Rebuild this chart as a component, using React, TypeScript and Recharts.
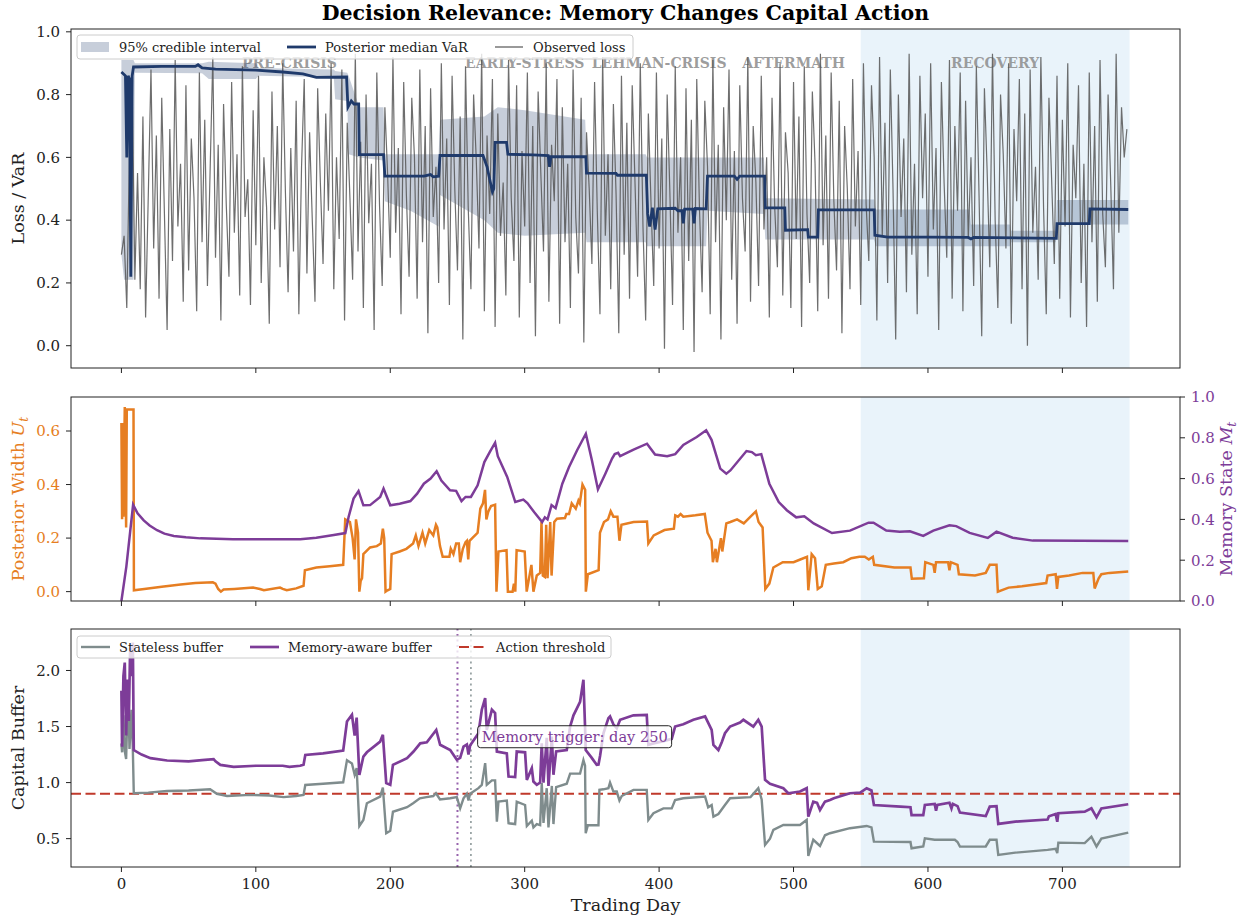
import React from 'react';
import {
  ComposedChart,
  Line,
  Area,
  XAxis,
  YAxis,
  ReferenceArea,
  ReferenceLine,
  ReferenceDot,
} from 'recharts';

const FONT = '"DejaVu Serif", "Liberation Serif", serif';
const NAVY = '#1f3a6b';
const ORANGE = '#e67e22';
const PURPLE = '#7d3c98';
const SLATE = '#7f8c8d';
const RED = '#c0392b';
const INK = '#222';
const SHADE = '#e9f3fa';

const X_TICKS = [0, 100, 200, 300, 400, 500, 600, 700];
const X_DOMAIN = [-37.5, 787.5];
const LOSS_STEP = 2;

const phases = [
  { name: 'PRE-CRISIS', start: 0, end: 250 },
  { name: 'EARLY-STRESS', start: 250, end: 350 },
  { name: 'LEHMAN-CRISIS', start: 350, end: 450 },
  { name: 'AFTERMATH', start: 450, end: 550 },
  { name: 'RECOVERY', start: 550, end: 750 },
];

// observed loss, every other trading day
const observedLoss = [
  .29, .35, .12, .62, .85, .21, .55, .18, .73, .09, .48, .88, .31, .67, .15, .79, .42, .05, .69, .27, .91, .38, .58, .14, .83,
  .24, .66, .47, .11, .87, .33, .72, .19, .56, .92, .28, .64, .08, .77, .45, .22, .84, .36, .61, .16, .89, .41, .53, .13, .75,
  .32, .86, .2, .6, .44, .07, .81, .37, .7, .25, .9, .49, .17, .63, .3, .78, .1, .57, .85, .23, .68, .4, .14, .82, .52,
  .26, .74, .43, .9, .18, .6, .34, .88, .08, .71, .47, .21, .93, .3, .65, .12, .8, .39, .58, .05, .87, .45, .19, .76, .55,
  .28, .92, .36, .63, .1, .84, .48, .22, .79, .6, .15, .88, .33, .7, .04, .82, .41, .57, .2, .9, .37, .66, .13, .86, .5,
  .24, .73, .02, .89, .44, .18, .8, .59, .31, .93, .11, .67, .42, .85, .06, .74, .35, .52, .16, .91, .47, .27, .83, .09, .62,
  .38, .87, .2, .7, .03, .81, .55, .3, .9, .14, .64, .46, .85, .07, .76, .33, .58, .12, .88, .41, .23, .79, .01, .68, .5,
  .26, .84, .43, .1, .92, .35, .61, .18, .77, .48, .04, .86, .29, .71, .15, .83, .53, .22, .9, .38, .08, .74, .45, .19, .87,
  .31, .66, -.01, .8, .49, .13, .89, .36, .6, .05, .82, .27, .72, -.02, .85, .44, .17, .78, .57, .1, .91, .33, .64, .02, .76,
  .4, .88, .21, .62, .07, .83, .47, .3, .92, .14, .7, .52, .19, .86, .37, .6, .09, .79, .44, .25, .9, .16, .68, .55, .12,
  .84, .34, .73, .06, .89, .42, .2, .81, .58, .11, .93, .32, .67, .15, .87, .46, .24, .78, .04, .7, .5, .18, .85, .38, .62,
  .13, .9, .45, .27, .83, .6, .08, .92, .35, .71, .2, .88, .5, .02, .8, .41, .66, .17, .93, .29, .58, .1, .86, .47, .74,
  .22, .9, .37, .63, .05, .84, .52, .28, .91, .15, .7, .43, .87, .11, .78, .34, .6, .19, .89, .48, .03, .82, .56, .25, .93,
  .4, .12, .8, .61, .31, .9, .07, .69, .46, .85, .18, .74, 0, .88, .36, .57, .21, .92, .44, .1, .79, .53, .26, .86, .15,
  .72, .38, .9, .09, .64, .47, .83, .2, .58, .06, .87, .33, .7, .14, .91, .42, .25, .8, .51, .18, .93, .36, .76, .6, .69,
];

// [day, posterior median VaR]
const varMedian = [
  [0, .872], [3, .86], [4, .6], [5, .86], [6, .85], [7, .22], [8, .86], [9, .888], [30, .89], [55, .89], [57, .895],
  [60, .885], [70, .881], [100, .878], [120, .872], [135, .866], [145, .855], [167.5, .856], [168.5, .76], [171, .78],
  [173, .77], [176.5, .77], [177, .609], [195, .609], [196, .54], [225, .54], [230, .545], [232, .538], [236, .54],
  [237, .606], [269, .606], [272, .57], [276, .49], [277, .5], [278, .648], [286.5, .648], [287.5, .61], [306, .608],
  [317.5, .606], [318.5, .57], [319.5, .602], [345.5, .602], [346, .55], [368, .549], [369, .543], [390.5, .543],
  [391.5, .42], [393, .38], [395, .44], [397, .37], [399, .436], [412, .438], [414, .43], [417, .43], [418, .39],
  [419, .435], [425, .435], [426, .39], [427, .437], [435, .436], [436, .54], [456, .54], [458, .53], [460, .54],
  [478.5, .54], [479, .439], [493.5, .439], [494, .368], [510.5, .37], [511, .346], [518, .346], [518.5, .433],
  [560, .433], [560.5, .352], [570, .346], [600, .346], [630, .345], [632, .34], [634, .345], [695.5, .342],
  [696, .389], [720, .389], [720.5, .436], [749, .434],
];

// [day, lower, upper] of the 95% credible interval
const credBand = [
  [0, .29, .91], [2, .21, .91], [9, .21, .91], [10, .87, .9], [60, .868, .9], [65, .85, .905], [100, .85, .9],
  [102, .86, .885], [158, .855, .88], [159, .785, .875], [168, .78, .87], [169, .61, .86], [177, .6, .76],
  [195, .59, .76], [196, .46, .61], [215, .43, .61], [236, .38, .61], [237, .48, .72], [270, .4, .73],
  [280, .36, .76], [300, .35, .75], [345, .36, .72], [346, .33, .61], [390, .33, .61], [391, .317, .6],
  [435, .317, .6], [436, .43, .6], [478, .42, .6], [479, .338, .47], [560, .338, .466], [561, .317, .434],
  [631, .317, .434], [632, .317, .386], [661, .317, .386], [662, .33, .366], [695, .33, .366], [696, .386, .464],
  [749, .386, .464],
];

// [day, posterior width U_t]
const postWidth = [
  [0, .63], [0.5, .27], [1, .63], [1.5, .28], [2.5, .69], [3.5, .24], [4, .68], [9, .68], [9.3, .005], [17, .01],
  [30, .018], [44, .027], [55, .032], [68, .035], [70, .03], [72, .01], [74, 0], [76, .008], [84, .01], [98, .015],
  [103, .01], [106, .005], [118, .015], [120, .01], [123, .005], [130, .012], [135.5, .022], [136.5, .08], [145, .09],
  [155, .095], [165, .1], [166.5, .27], [170, .26], [172, .2], [173.5, .12], [174.5, .27], [176, .22], [177, 0],
  [178, .04], [179, .05], [180, .14], [185, .165], [190, .17], [193, .18], [194.5, .235], [195.5, .2], [196.5, 0],
  [198, .005], [200, .01], [201, .14], [207, .15], [212, .16], [217, .18], [219, .21], [221, .17], [224, .22],
  [226, .18], [229, .23], [232, .21], [234, .25], [235, .24], [237, .17], [239, .13], [244, .13], [245, .16],
  [247, .14], [249, .18], [251, .18], [252, .11], [254, .16], [256, .185], [257, .19], [258, .12], [259, .19],
  [261, .2], [264, .215], [265, .22], [267, .31], [269, .33], [270.5, .38], [271.5, .27], [273, .3], [275, .32],
  [278, .325], [279, 0], [280.5, .15], [286.5, .155], [287.5, 0], [291, 0], [292, .03], [293, 0], [294, .155],
  [300, .15], [301.5, 0], [305, .1], [306.5, 0], [309, .06], [311.5, .07], [312.5, .26], [313.5, .06], [315, .055],
  [316, .25], [317, .05], [319, .26], [320, .06], [322, .26], [324, .272], [330, .275], [331, .29], [333, .29],
  [335, .33], [338, .31], [340, .34], [341, .33], [343, .4], [345, .38], [345.5, 0], [347, .065], [355, .08],
  [356, .22], [359, .26], [362, .27], [364, .3], [366, .28], [369, .28], [370.5, .19], [372, .25], [381, .26],
  [391, .262], [392, .18], [396, .21], [404, .23], [411, .235], [412, .285], [414, .28], [416, .29], [418, .28],
  [427, .285], [434, .29], [436, .22], [439, .19], [440, .11], [442, .16], [443, .11], [446, .2], [447, .15],
  [450, .255], [453, .26], [458, .27], [463, .255], [468, .28], [472, .3], [474, .26], [477, .24], [479, .01],
  [482, .03], [485, .09], [492, .11], [500, .11], [505, .12], [510, .13], [511, .005], [513.5, .14], [516, .125],
  [518, .01], [521, .02], [524, .1], [530, .105], [537, .11], [543, .125], [549, .13], [553, .13], [556, .12],
  [559, .13], [560, .1], [575, .09], [587, .09], [588, .048], [597, .05], [598, .11], [604, .1], [605, .07],
  [606, .11], [615, .11], [616, .08], [617, .11], [622, .1], [623, .065], [635, .06], [643, .07], [646, .1],
  [651, .1], [652, 0], [660, .015], [670, .02], [688, .032], [689, .06], [695, .065], [696, .01], [697, .055],
  [705, .06], [715, .07], [723, .07], [724, .012], [727, .05], [729, .065], [735, .07], [749, .075],
];

// [day, memory state M_t]
const memoryState = [
  [0, 0], [3.7, .17], [8.7, .472], [12, .43], [16.6, .395], [21, .37], [26.5, .347], [32, .33], [39, .319],
  [48, .312], [58.7, .307], [83, .303], [133, .303], [145, .31], [158, .324], [166.6, .333], [169, .412],
  [172.7, .502], [176.4, .539], [180, .469], [185, .47], [192.5, .51], [195, .551], [200, .469], [207, .477],
  [215, .49], [220, .526], [225, .575], [230, .6], [234.5, .636], [238, .59], [244.5, .543], [249, .54], [253, .49],
  [256, .51], [260, .51], [265, .567], [270, .681], [274, .73], [278, .776], [280, .71], [287, .608], [293, .485],
  [299, .497], [302, .48], [307, .436], [313, .387], [315, .41], [317, .4], [320, .47], [323, .455], [328, .575],
  [333, .657], [339, .739], [345.5, .82], [350, .69], [354.5, .547], [360, .624], [365, .698], [367, .72],
  [369.5, .726], [371, .71], [381, .742], [391, .771], [397, .718], [406, .71], [412, .72], [418, .765], [428, .804],
  [435, .837], [439, .79], [445.5, .649], [450, .624], [453, .64], [465, .735], [469, .73], [472, .715], [476, .72],
  [482, .575], [489, .485], [495, .445], [502, .41], [508, .415], [515, .38], [528.6, .333], [542, .345],
  [555.8, .384], [559.5, .384], [569, .345], [579, .34], [586.6, .342], [596.5, .319], [604, .345], [616, .371],
  [621, .367], [631, .334], [644.5, .309], [651, .34], [663, .31], [678, .296], [749, .294],
];

// [day, stateless capital buffer]
const statelessBuffer = [
  [0, 1.35], [0.5, 1.27], [1.5, 1.6], [2.5, 1.28], [3.5, 1.21], [5, 1.85], [6, 1.3], [7.5, 1.65], [8.5, 1.3],
  [9.2, .905], [20, .91], [34, .925], [50, .93], [66, .94], [71, .9], [78.6, .88], [96, .89], [110, .885],
  [120.7, .87], [130, .88], [135.5, .89], [136.8, .979], [150, .99], [165, 1.003], [167.8, 1.2], [171.5, 1.17],
  [173.5, 1.07], [175, 1.13], [177, .613], [180, .667], [182.6, .816], [192.5, .875], [194.5, .956], [197, .548],
  [200, .57], [202, .74], [212.5, .78], [217, .816], [222, .86], [227, .87], [232, .88], [234, .905], [237, .85],
  [244.6, .86], [249.5, .87], [252, .77], [254.5, .86], [257, .9], [258.2, .84], [259.4, .9], [265.6, .95],
  [268.1, .98], [270.6, 1.173], [271.8, .98], [275.6, 1.02], [278, 1.02], [279.3, .652], [280.5, .83], [286.7, .84],
  [288, .637], [292.9, .63], [294.1, .83], [300.3, .8], [301.6, .613], [305.3, .66], [306.5, .6], [309, .63],
  [311.5, .62], [312.7, .995], [314, .64], [316.4, .95], [317.7, .6], [320.2, .97], [321.4, .63], [323.4, .96],
  [331.3, .99], [333.8, 1.08], [341.2, 1.08], [343.7, 1.2], [344.9, 1.15], [345.4, .548], [347, .62], [354.9, .62],
  [355.6, .935], [358.6, .94], [362.3, .95], [363.5, 1.0], [366, .92], [368.5, .92], [370.5, .84], [372.2, .88],
  [380.9, .935], [390.8, .935], [392, .667], [395.8, .727], [403.2, .77], [409.4, .77], [411.9, .845], [418, .86],
  [434.2, .875], [436.5, .78], [439.1, .8], [440.4, .696], [444.1, .72], [449, .8], [452.8, .86], [468, .87],
  [473.8, .95], [476.3, .85], [478.8, .444], [482.5, .5], [485, .578], [492.4, .622], [504.8, .622], [509.8, .667],
  [511, .345], [514.7, .49], [519.7, .435], [523.4, .53], [527.1, .548], [542, .593], [554.4, .613], [558, .6],
  [559.8, .473], [587, .47], [587.8, .414], [596.5, .43], [597.7, .503], [605, .49], [620, .49], [622, .47],
  [623.8, .429], [643, .43], [646, .49], [651, .49], [652.3, .354], [665, .375], [689, .4], [695, .41],
  [696.2, .37], [697, .464], [716.6, .46], [721.6, .518], [725.4, .43], [729, .5], [749, .554],
];

// [day, memory-aware capital buffer]
const memoryBuffer = [
  [0, 1.82], [0.5, 1.32], [1.5, 1.95], [2.5, 2.07], [3.5, 1.42], [4.5, 1.92], [5.5, 1.55], [6.5, 2.2], [7.5, 1.95],
  [8.5, 2.25], [9.2, 1.29], [15, 1.25], [21.6, 1.218], [34, 1.197], [50, 1.19], [60, 1.2], [68.6, 1.209], [70, 1.19],
  [73.6, 1.158], [83.5, 1.14], [100, 1.15], [120, 1.15], [125, 1.14], [133, 1.15], [135.5, 1.16], [136.8, 1.247],
  [150, 1.26], [165, 1.286], [167.8, 1.545], [171.5, 1.605], [173.5, 1.42], [175, 1.58], [177, 1.069], [180, 1.232],
  [182.6, 1.27], [192.5, 1.366], [194.5, 1.426], [197, .995], [200, .98], [202, 1.158], [212.5, 1.218],
  [217.3, 1.277], [222.3, 1.35], [227.2, 1.36], [234.2, 1.47], [237.1, 1.337], [244.6, 1.29], [249.5, 1.203],
  [252, 1.22], [254.5, 1.32], [257, 1.34], [258.2, 1.25], [259.4, 1.33], [265.6, 1.44], [268.1, 1.65],
  [270.6, 1.754], [271.8, 1.47], [275.6, 1.65], [278, 1.62], [279.3, 1.277], [286.7, 1.26], [288, 1.054],
  [292.9, 1.05], [294.1, 1.277], [300.3, 1.27], [301.6, 1.024], [305.3, 1.128], [306.5, 1.009], [309, .98],
  [311.5, 1.0], [312.7, 1.35], [314, 1.0], [316.4, 1.4], [317.7, .97], [320.2, 1.41], [321.4, 1.07], [323.4, 1.277],
  [331.3, 1.29], [333.8, 1.5], [336.3, 1.6], [341.2, 1.72], [343.7, 1.917], [344.9, 1.5], [345.4, 1.29],
  [349.9, 1.22], [353.6, 1.158], [354.9, 1.16], [356.1, 1.24], [358.6, 1.44], [362.3, 1.575], [363.5, 1.59],
  [366, 1.52], [368.5, 1.486], [371, 1.56], [380.9, 1.6], [390.8, 1.604], [392, 1.337], [395.8, 1.35],
  [403.2, 1.37], [409.4, 1.39], [411.9, 1.5], [418, 1.52], [425.5, 1.56], [434.2, 1.59], [439.1, 1.47],
  [440.4, 1.337], [444.1, 1.29], [446.6, 1.36], [449, 1.44], [452.8, 1.5], [460.2, 1.535], [462.7, 1.56],
  [470.1, 1.5], [473.8, 1.56], [476.3, 1.5], [478.8, 1.024], [482.5, .99], [492.4, .95], [496.1, .905],
  [504.8, .92], [509.8, .95], [511, .696], [514.7, .83], [517.5, .82], [519.7, .756], [523.4, .83], [527.1, .845],
  [530, .86], [542, .905], [549.6, .91], [554.4, .95], [558, .93], [559.8, .8], [579.5, .786], [587, .78],
  [587.8, .71], [596.5, .71], [597.7, .8], [605, .81], [606, .75], [607, .8], [616, .82], [617.5, .77],
  [618.5, .81], [622, .79], [623.8, .732], [643, .702], [646, .786], [651, .79], [652.3, .631], [665, .652],
  [689, .67], [690, .7], [695, .72], [696.2, .65], [697, .727], [716.6, .741], [721.6, .77], [725.4, .69],
  [729, .77], [749, .807],
];

const ACTION_THRESHOLD = 0.9;
const MEMORY_TRIGGER_DAY = 250;
const STATELESS_TRIGGER_DAY = 260;

const lossPts = observedLoss.map((v, i) => ({ day: i * LOSS_STEP, value: v }));
const toPts = (pairs) => pairs.map(([day, value]) => ({ day, value }));
const varPts = toPts(varMedian);
const bandPts = credBand.map(([day, lo, hi]) => ({ day, range: [lo, hi] }));
const widthPts = toPts(postWidth);
const memPts = toPts(memoryState);
const statelessPts = toPts(statelessBuffer);
const memBufPts = toPts(memoryBuffer);

const tickStyle = { fontSize: 15, fill: INK, fontFamily: FONT };
const fmt1 = (v) => Number(v).toFixed(1);

function PhaseLabel(props) {
  const vb = props.viewBox || { x: 0, y: 0, width: 0, height: 0 };
  return (
    <text
      x={vb.x + vb.width / 2}
      y={vb.y + 39}
      textAnchor="middle"
      fontFamily={FONT}
      fontWeight="bold"
      fontSize={14}
      fill="#8c8c8c"
      fillOpacity={0.85}
    >
      {props.text}
    </text>
  );
}

function TriggerNote(props) {
  const vb = props.viewBox || { x: 0, y: 0, width: 0, height: 0 };
  const cx = vb.x + vb.width / 2;
  const cy = vb.y + vb.height / 2;
  return (
    <g>
      <rect x={cx} y={cy - 12} width={194} height={22} rx={3} fill="#fff" fillOpacity={0.75} stroke={INK} strokeWidth={1} />
      <text x={cx + 4} y={cy + 4} fontFamily={FONT} fontSize={14.6} fill={PURPLE}>
        Memory trigger: day 250
      </text>
    </g>
  );
}

const hiddenTick = () => <g />;

function TopPanel() {
  return (
    <ComposedChart width={1246} height={400} data={bandPts} margin={{ top: 29, right: 66, bottom: 12, left: 0 }}>
      <XAxis
        dataKey="day"
        type="number"
        domain={X_DOMAIN}
        ticks={X_TICKS}
        interval={0}
        allowDataOverflow
        height={20}
        tick={hiddenTick}
        tickSize={5}
        axisLine={false}
        tickLine={{ stroke: INK }}
      />
      <YAxis
        width={71}
        type="number"
        domain={[-0.071, 1.009]}
        allowDataOverflow
        ticks={[0, 0.2, 0.4, 0.6, 0.8, 1.0]}
        interval={0}
        tickFormatter={fmt1}
        tick={tickStyle}
        tickSize={5}
        tickMargin={6}
        axisLine={false}
        tickLine={{ stroke: INK }}
      />
      {phases.map((p) => (
        <ReferenceArea
          key={p.name}
          x1={p.start}
          x2={p.end}
          fill={p.name === 'RECOVERY' ? SHADE : 'none'}
          fillOpacity={1}
          stroke="none"
          ifOverflow="hidden"
          label={<PhaseLabel text={p.name} />}
        />
      ))}
      <Line data={lossPts} dataKey="value" type="linear" stroke="#555" strokeOpacity={0.85} strokeWidth={1.2} dot={false} activeDot={false} isAnimationActive={false} />
      <Area dataKey="range" type="linear" stroke="none" fill={NAVY} fillOpacity={0.25} dot={false} activeDot={false} isAnimationActive={false} />
      <Line data={varPts} dataKey="value" type="linear" stroke={NAVY} strokeWidth={2.8} dot={false} activeDot={false} isAnimationActive={false} />
    </ComposedChart>
  );
}

function MiddlePanel() {
  return (
    <ComposedChart width={1246} height={240} data={widthPts} margin={{ top: 17, right: 0, bottom: 9, left: 0 }}>
      <XAxis
        dataKey="day"
        type="number"
        domain={X_DOMAIN}
        ticks={X_TICKS}
        interval={0}
        allowDataOverflow
        height={10}
        tick={hiddenTick}
        tickSize={5}
        axisLine={false}
        tickLine={{ stroke: INK }}
      />
      <YAxis
        yAxisId="u"
        width={71}
        type="number"
        domain={[-0.035, 0.727]}
        allowDataOverflow
        ticks={[0, 0.2, 0.4, 0.6]}
        interval={0}
        tickFormatter={fmt1}
        tick={{ ...tickStyle, fill: ORANGE }}
        tickSize={5}
        tickMargin={6}
        axisLine={false}
        tickLine={{ stroke: INK }}
      />
      <YAxis
        yAxisId="m"
        orientation="right"
        width={66}
        type="number"
        domain={[0, 1]}
        allowDataOverflow
        ticks={[0, 0.2, 0.4, 0.6, 0.8, 1.0]}
        interval={0}
        tickFormatter={fmt1}
        tick={{ ...tickStyle, fill: PURPLE, textAnchor: 'start' }}
        tickSize={5}
        tickMargin={6}
        axisLine={false}
        tickLine={{ stroke: INK }}
      />
      <ReferenceArea yAxisId="u" x1={550} x2={750} fill={SHADE} fillOpacity={1} stroke="none" ifOverflow="hidden" />
      <Line yAxisId="u" data={widthPts} dataKey="value" type="linear" stroke={ORANGE} strokeWidth={2.5} dot={false} activeDot={false} isAnimationActive={false} />
      <Line yAxisId="m" data={memPts} dataKey="value" type="linear" stroke={PURPLE} strokeWidth={2.5} dot={false} activeDot={false} isAnimationActive={false} />
    </ComposedChart>
  );
}

function BottomPanel() {
  return (
    <ComposedChart width={1246} height={312} data={memBufPts} margin={{ top: 19, right: 66, bottom: 5, left: 0 }}>
      <XAxis
        dataKey="day"
        type="number"
        domain={X_DOMAIN}
        ticks={X_TICKS}
        interval={0}
        allowDataOverflow
        height={50}
        tick={tickStyle}
        tickSize={5}
        tickMargin={6}
        axisLine={false}
        tickLine={{ stroke: INK }}
      />
      <YAxis
        width={71}
        type="number"
        domain={[0.247, 2.37]}
        allowDataOverflow
        ticks={[0.5, 1.0, 1.5, 2.0]}
        interval={0}
        tickFormatter={fmt1}
        tick={tickStyle}
        tickSize={5}
        tickMargin={6}
        axisLine={false}
        tickLine={{ stroke: INK }}
      />
      <ReferenceArea x1={550} x2={750} fill={SHADE} fillOpacity={1} stroke="none" ifOverflow="hidden" />
      <ReferenceLine y={ACTION_THRESHOLD} stroke={RED} strokeWidth={2} strokeDasharray="10 4.5" />
      <ReferenceLine x={MEMORY_TRIGGER_DAY} stroke={PURPLE} strokeWidth={2} strokeDasharray="2 3.5" strokeOpacity={0.8} />
      <ReferenceLine x={STATELESS_TRIGGER_DAY} stroke={SLATE} strokeWidth={1.8} strokeDasharray="2 3.5" strokeOpacity={0.8} />
      <Line data={statelessPts} dataKey="value" type="linear" stroke={SLATE} strokeWidth={2.4} dot={false} activeDot={false} isAnimationActive={false} />
      <Line data={memBufPts} dataKey="value" type="linear" stroke={PURPLE} strokeWidth={2.7} dot={false} activeDot={false} isAnimationActive={false} />
      <ReferenceDot x={265} y={1.4} r={1} fill="none" stroke="none" label={<TriggerNote />} />
    </ComposedChart>
  );
}

function Overlay() {
  const frame = (y0, y1) => (
    <rect x={71} y={y0} width={1109} height={y1 - y0} fill="none" stroke={INK} strokeWidth={1} />
  );
  return (
    <svg width={1246} height={922} style={{ position: 'absolute', left: 0, top: 0, pointerEvents: 'none' }}>
      {frame(29, 368)}
      {frame(397, 601)}
      {frame(629, 867)}
      <text x={625.5} y={20} textAnchor="middle" fontFamily={FONT} fontWeight="bold" fontSize={20.5} fill="#000">
        Decision Relevance: Memory Changes Capital Action
      </text>
      <text transform="translate(24,198.5) rotate(-90)" textAnchor="middle" fontFamily={FONT} fontSize={17.5} fill={INK}>
        Loss / VaR
      </text>
      <text transform="translate(24,499) rotate(-90)" textAnchor="middle" fontFamily={FONT} fontSize={17.5} fill={ORANGE}>
        Posterior Width <tspan fontStyle="italic">U</tspan>
        <tspan fontStyle="italic" fontSize={12.2} dy={4}>t</tspan>
      </text>
      <text transform="translate(1232,499) rotate(-90)" textAnchor="middle" fontFamily={FONT} fontSize={17.5} fill={PURPLE}>
        Memory State <tspan fontStyle="italic">M</tspan>
        <tspan fontStyle="italic" fontSize={12.2} dy={4}>t</tspan>
      </text>
      <text transform="translate(24,748) rotate(-90)" textAnchor="middle" fontFamily={FONT} fontSize={17.5} fill={INK}>
        Capital Buffer
      </text>
      <text x={625.5} y={911} textAnchor="middle" fontFamily={FONT} fontSize={17.5} fill={INK}>
        Trading Day
      </text>

      <g fontFamily={FONT} fontSize={13} fill={INK}>
        <rect x={77} y={35} width={556} height={24} rx={3} fill="#fff" fillOpacity={0.8} stroke="#ccc" />
        <rect x={81} y={42} width={28} height={10} fill={NAVY} fillOpacity={0.25} />
        <text x={119} y={52}>95% credible interval</text>
        <line x1={287} x2={316} y1={47} y2={47} stroke={NAVY} strokeWidth={2.8} />
        <text x={325} y={52}>Posterior median VaR</text>
        <line x1={495} x2={523} y1={47} y2={47} stroke="#555" strokeWidth={1.2} />
        <text x={533} y={52}>Observed loss</text>

        <rect x={77} y={636} width={534} height={22} rx={3} fill="#fff" fillOpacity={0.8} stroke="#ccc" />
        <line x1={81} x2={110} y1={647} y2={647} stroke={SLATE} strokeWidth={2.4} />
        <text x={119} y={652}>Stateless buffer</text>
        <line x1={250} x2={279} y1={647} y2={647} stroke={PURPLE} strokeWidth={2.7} />
        <text x={288} y={652}>Memory-aware buffer</text>
        <line x1={459} x2={487} y1={647} y2={647} stroke={RED} strokeWidth={2} strokeDasharray="10 4.5" />
        <text x={496} y={652}>Action threshold</text>
      </g>
    </svg>
  );
}

export default function App() {
  return (
    <div style={{ position: 'absolute', left: 0, top: 0, width: 1246, height: 922, background: '#fff', fontFamily: FONT }}>
      <div style={{ position: 'absolute', left: 0, top: 0 }}>
        <TopPanel />
      </div>
      <div style={{ position: 'absolute', left: 0, top: 380 }}>
        <MiddlePanel />
      </div>
      <div style={{ position: 'absolute', left: 0, top: 610 }}>
        <BottomPanel />
      </div>
      <Overlay />
    </div>
  );
}
